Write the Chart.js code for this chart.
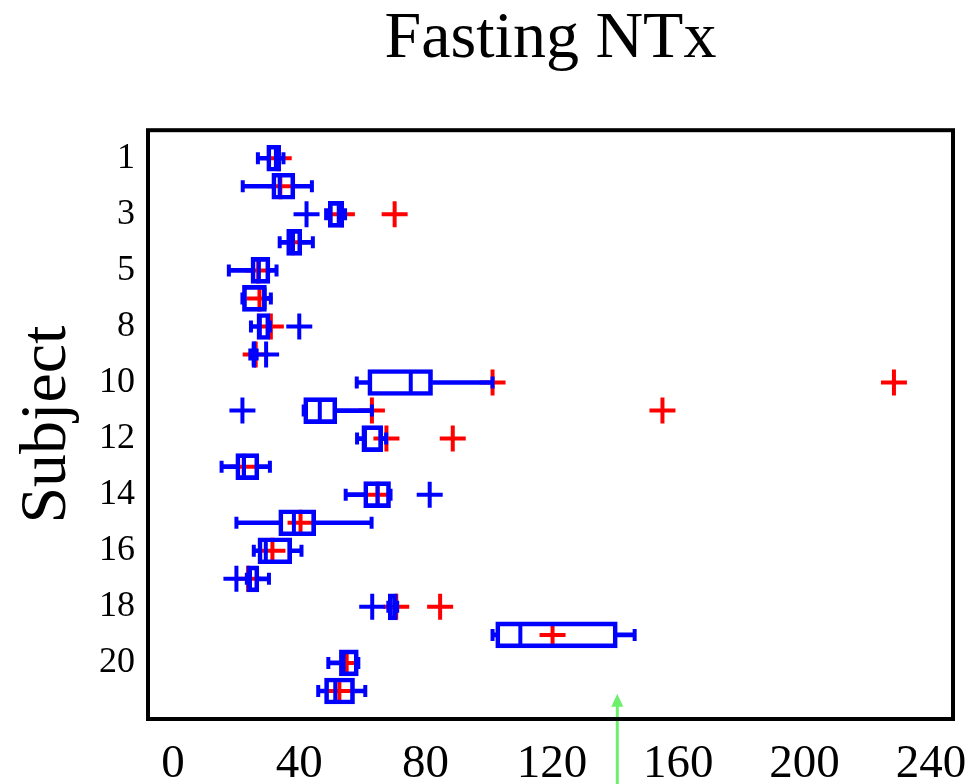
<!DOCTYPE html>
<html>
<head>
<meta charset="utf-8">
<script src="https://cdn.jsdelivr.net/npm/chart.js@4.4.1/dist/chart.umd.min.js"></script>
<style>
  html, body { margin: 0; padding: 0; background: #fff; }
  #wrap { width: 970px; height: 784px; position: relative; }
</style>
</head>
<body>
<div id="wrap"><canvas id="ntxChart"></canvas></div>
<script>
// Subjects (one row each, top to bottom)
const subjects = ["1", "2", "3", "4", "5", "6", "8", "9", "10", "11", "12", "13", "14", "15", "16", "17", "18", "19", "20", "21"];

// Box plot summary per row
const lowWhisker  = [26.9, 22.1, 48.5, 33.8, 17.7, 22.0, 24.7, 24.5, 58.2, 41.4, 58.3, 15.4, 54.7, 20.1, 25.6, 23.4, 68.2, 101.2, 49.2, 46.0];
const q1          = [29.7, 31.3, 49.2, 36.0, 24.7, 22.0, 26.6, 25.0, 61.7, 41.4, 59.8, 19.9, 60.4, 33.5, 26.9, 23.4, 68.2, 102.2, 52.7, 48.0];
const median      = [32.6, 33.8, 52.5, 38.0, 27.2, 29.0, 27.5, 25.6, 75.3, 46.5, 60.8, 22.5, 64.8, 38.3, 29.4, 24.4, 68.8, 110.0, 54.0, 51.4];
const q3          = [34.1, 38.6, 54.1, 40.8, 30.7, 29.6, 30.7, 26.3, 82.2, 51.9, 66.4, 27.2, 68.9, 45.2, 37.6, 27.2, 71.0, 140.7, 58.7, 57.5];
const highWhisker = [35.0, 44.0, 54.5, 44.3, 32.8, 31.0, 30.7, 26.5, 101.2, 63.0, 67.5, 30.7, 68.9, 62.9, 40.7, 30.4, 71.0, 146.2, 58.7, 60.9];

// Red "+" markers (value, row)
const redValues = [33.5, 34.0, 53.5, 70.2, 38.0, 27.0, 27.4, 31.0, 26.2, 101.2, 228.3, 63.0, 155.0, 67.6, 88.6, 22.4, 64.8, 40.4, 31.5, 23.8, 70.7, 84.6, 120.2, 55.0, 52.7];
const redRows   = [1, 2, 3, 3, 4, 5, 6, 7, 8, 9, 9, 10, 10, 11, 11, 12, 13, 14, 15, 16, 17, 17, 18, 19, 20];

// Blue "+" outliers (value, row)
const blueValues = [42.3, 40.0, 29.5, 22.0, 81.3, 20.1, 63.1];
const blueRows   = [3, 7, 8, 10, 13, 16, 17];

// Axis ticks
const xTicks = [0, 40, 80, 120, 160, 200, 240];
const yTickRows = [1, 3, 5, 7, 9, 11, 13, 15, 17, 19];

// Green arrow annotation
const arrowValue = 140.7;
const arrowTipRow = 20.1;

const BLUE = "#0000ff";
const RED = "#ff0000";
const rows = subjects.map((s, i) => i + 1);

// Frame around plot area and the green arrow
const framePlugin = {
    id: "frame",
    afterDatasetsDraw(chart) {
        const ctx = chart.ctx;
        const a = chart.chartArea;
        const xs = chart.scales.x;
        const ys = chart.scales.y;
        // green arrow
        const ax = xs.getPixelForValue(arrowValue);
        const tip = ys.getPixelForValue(arrowTipRow);
        ctx.save();
        ctx.strokeStyle = "#6cf06c";
        ctx.fillStyle = "#6cf06c";
        ctx.lineWidth = 3;
        ctx.beginPath();
        ctx.moveTo(ax, tip + 8);
        ctx.lineTo(ax, chart.height);
        ctx.stroke();
        ctx.beginPath();
        ctx.moveTo(ax, tip);
        ctx.lineTo(ax - 6, tip + 13);
        ctx.lineTo(ax + 6, tip + 13);
        ctx.closePath();
        ctx.fill();
        // frame
        ctx.strokeStyle = "#000";
        ctx.lineWidth = 4;
        ctx.strokeRect(a.left, a.top, a.right - a.left, a.bottom - a.top);
        ctx.restore();
    }
};

const ctx = document.getElementById("ntxChart").getContext("2d");

new Chart(ctx, {
    data: {
        datasets: [
            {
                type: "bar",
                indexAxis: "y",
                grouped: false,
                data: rows.map((r, i) => ({ x: [lowWhisker[i], q1[i]], y: r })),
                backgroundColor: BLUE,
                borderWidth: 0,
                barThickness: 4,
                order: 2
            },
            {
                type: "bar",
                indexAxis: "y",
                grouped: false,
                data: rows.map((r, i) => ({ x: [q3[i], highWhisker[i]], y: r })),
                backgroundColor: BLUE,
                borderWidth: 0,
                barThickness: 4,
                order: 2
            },
            {
                type: "bar",
                indexAxis: "y",
                grouped: false,
                data: rows.map((r, i) => ({ x: [q1[i], q3[i]], y: r })),
                backgroundColor: "rgba(0,0,0,0)",
                borderColor: BLUE,
                borderWidth: 4,
                borderSkipped: false,
                barThickness: 26,
                order: 1
            },
            {
                type: "scatter",
                data: rows.map((r, i) => ({ x: median[i], y: r })),
                pointStyle: "line",
                rotation: 90,
                radius: 11,
                borderColor: BLUE,
                borderWidth: 4,
                order: 1
            },
            {
                type: "scatter",
                data: rows.map((r, i) => ({ x: lowWhisker[i], y: r }))
                    .concat(rows.map((r, i) => ({ x: highWhisker[i], y: r }))),
                pointStyle: "line",
                rotation: 90,
                radius: 6,
                borderColor: BLUE,
                borderWidth: 4,
                order: 1
            },
            {
                type: "scatter",
                data: blueValues.map((v, i) => ({ x: v, y: blueRows[i] })),
                pointStyle: "cross",
                radius: 13,
                borderColor: BLUE,
                borderWidth: 4,
                order: 1
            },
            {
                type: "scatter",
                data: redValues.map((v, i) => ({ x: v, y: redRows[i] })),
                pointStyle: "cross",
                radius: 13,
                borderColor: RED,
                borderWidth: 4,
                order: 5
            }
        ]
    },
    options: {
        responsive: true,
        maintainAspectRatio: false,
        animation: false,
        layout: { padding: { top: 0, right: 14, bottom: 0, left: 0 } },
        plugins: {
            legend: { display: false },
            tooltip: { enabled: false },
            title: {
                display: true,
                text: "Fasting NTx",
                fullSize: false,
                color: "#000",
                font: { family: "Liberation Serif", size: 66, weight: "normal", lineHeight: 1.2 },
                padding: { top: 0, bottom: 51 }
            }
        },
        scales: {
            x: {
                type: "linear",
                position: "bottom",
                offset: false,
                min: -7.9,
                max: 247,
                grid: { display: false, drawTicks: false, offset: false },
                border: { display: false },
                afterBuildTicks: (scale) => { scale.ticks = xTicks.map(v => ({ value: v })); },
                afterFit: (scale) => {
                    scale.height = 65;
                    scale.paddingLeft = 0;
                    scale.paddingRight = 0;
                },
                ticks: {
                    color: "#000",
                    padding: 17,
                    maxRotation: 0,
                    font: { family: "Liberation Serif", size: 47 }
                }
            },
            y: {
                type: "linear",
                position: "left",
                offset: false,
                reverse: true,
                min: 0,
                max: 21,
                grid: { display: false, drawTicks: false, offset: false },
                border: { display: false },
                afterBuildTicks: (scale) => { scale.ticks = yTickRows.map(v => ({ value: v })); },
                afterFit: (scale) => {
                    scale.width = 148;
                    scale.paddingTop = 0;
                    scale.paddingBottom = 0;
                },
                ticks: {
                    color: "#000",
                    padding: 13,
                    font: { family: "Liberation Serif", size: 36 },
                    callback: (value) => subjects[value - 1]
                },
                title: {
                    display: true,
                    text: "Subject",
                    color: "#000",
                    padding: { top: 8, bottom: 0 },
                    font: { family: "Liberation Serif", size: 66, lineHeight: 1.2 }
                }
            }
        }
    },
    plugins: [framePlugin]
});
</script>
</body>
</html>
